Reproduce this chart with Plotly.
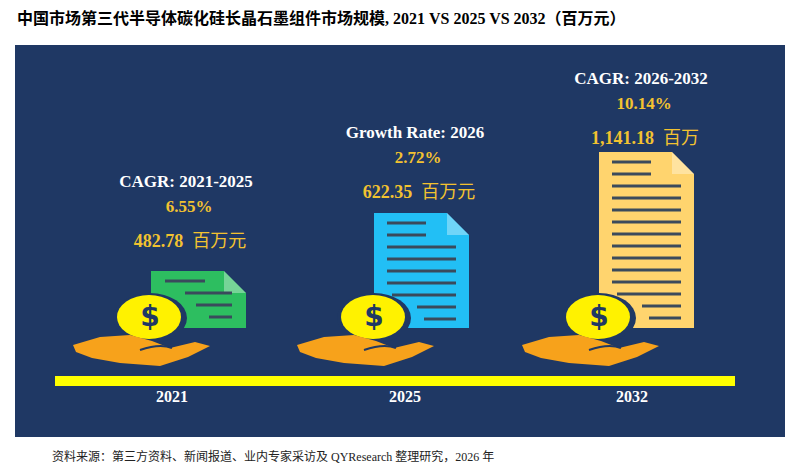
import plotly.graph_objects as go

years = ["2021", "2025", "2032"]
values = ["482.78", "622.35", "1,141.18"]
units = ["百万元", "百万元", "百万"]
rate_labels = ["CAGR: 2021-2025", "Growth Rate: 2026", "CAGR: 2026-2032"]
rates = ["6.55%", "2.72%", "10.14%"]
doc_colors = ["#2DBE60", "#22BFF5", "#FFD46E"]

# icon placement (pixel coords, y down)
ox = [0, 224, 449]
doc_left = [151, 374, 599]
doc_top = [271, 213, 152]
doc_w = 95
doc_bottom = 328
label_x = [186, 415, 641]
label_y = [183, 134, 80]

NAVY = "#1F3864"
LINE = "#3A4A5C"
GOLD = "#F2C230"
fig = go.Figure()
shapes = []

shapes.append(dict(type="rect", x0=15, x1=785, y0=45, y1=437, fillcolor=NAVY, line_width=0))

for i in range(3):
    l, t, r, b = doc_left[i], doc_top[i], doc_left[i] + doc_w, doc_bottom
    f = 22
    shapes.append(dict(type="path", path=f"M {l},{t} L {r-f},{t} L {r},{t+f} L {r},{b} L {l},{b} Z",
                       fillcolor=doc_colors[i], line_width=0))
    shapes.append(dict(type="path", path=f"M {r-f},{t} L {r-f},{t+f} L {r},{t+f} Z",
                       fillcolor="rgba(255,255,255,0.35)", line_width=0))
    ys = list(range(t + 10, b - 6, 12))
    n = len(ys)
    for k, y in enumerate(ys):
        if k < 2:
            x0, x1 = l + 13, l + 52
        elif k >= n - 2:
            x0, x1 = (l + 43 if k == n - 2 else l + 50), r - 13
        elif k == n - 3:
            x0, x1 = l + 18, r - 13
        else:
            x0, x1 = l + 13, r - 13
        if i == 0:
            x0 = [l + 14, l + 34, l + 45, l + 58][min(k, 3)]
            x1 = [l + 54, r - 14, r - 14, r - 14][min(k, 3)]
        shapes.append(dict(type="line", x0=x0, x1=x1, y0=y, y1=y, line=dict(color=LINE, width=3)))
    # coin
    cx, cy = 150 + ox[i], 318
    shapes.append(dict(type="circle", x0=cx - 37, x1=cx + 37, y0=cy - 25, y1=cy + 25,
                       fillcolor=NAVY, line_width=0))
    shapes.append(dict(type="circle", x0=cx - 33, x1=cx + 31, y0=cy - 23, y1=cy + 21,
                       fillcolor="#FFF200", line_width=0))
    # hand
    o = ox[i]
    pts = [(73, 345), (100, 337), (130, 335), (152, 341), (170, 348), (195, 342), (210, 346),
           (188, 357), (160, 366), (120, 363), (92, 358), (76, 352)]
    p = "M " + " L ".join(f"{x + o},{y}" for x, y in pts) + " Z"
    shapes.append(dict(type="path", path=p, fillcolor="#F7A21B", line_width=0))
    shapes.append(dict(type="path", path=f"M {140+o},{350} Q {160+o},{343} {172+o},{348}",
                       line=dict(color=NAVY, width=2)))

shapes.append(dict(type="rect", x0=55, x1=735, y0=376, y1=386, fillcolor="#FFFF00", line_width=0))

for s in shapes:
    s["layer"] = "below"
fig.update_layout(shapes=shapes)

serif = "Liberation Serif, Noto Sans CJK SC"
fig.add_trace(go.Scatter(x=[150 + o for o in ox], y=[319] * 3, mode="text", text=["<b>$</b>"] * 3,
                         textfont=dict(family="DejaVu Sans", size=28, color=NAVY), hoverinfo="skip"))
fig.add_trace(go.Scatter(x=[172, 405, 632], y=[398] * 3, mode="text", text=[f"<b>{s}</b>" for s in years],
                         textfont=dict(family=serif, size=16, color="white"), hoverinfo="skip"))
fig.add_trace(go.Scatter(x=label_x, y=label_y, mode="text", text=[f"<b>{s}</b>" for s in rate_labels],
                         textfont=dict(family=serif, size=17, color="white"), hoverinfo="skip"))
fig.add_trace(go.Scatter(x=[x + 3 for x in label_x], y=[y + 25 for y in label_y], mode="text",
                         text=[f"<b>{s}</b>" for s in rates],
                         textfont=dict(family=serif, size=17, color=GOLD), hoverinfo="skip"))
fig.add_trace(go.Scatter(x=[x + 4 for x in label_x], y=[y + 59 for y in label_y], mode="text",
                         text=[f"<b>{v}</b>  {u}" for v, u in zip(values, units)],
                         textfont=dict(family=serif, size=18, color=GOLD), hoverinfo="skip"))

fig.add_annotation(x=15, y=18, xanchor="left", text="<b>中国市场第三代半导体碳化硅长晶石墨组件市场规模, 2021 VS 2025 VS 2032（百万元）</b>",
                   showarrow=False, font=dict(family=serif, size=16, color="black"))
fig.add_annotation(x=50, y=456, xanchor="left", text="资料来源：第三方资料、新闻报道、业内专家采访及 QYResearch 整理研究，2026 年",
                   showarrow=False, font=dict(family=serif, size=12, color="#222"))

# page body has an 8px margin, so offset the pixel-style axes
fig.update_layout(width=803, height=469, margin=dict(l=0, r=0, t=0, b=0),
                  paper_bgcolor="white", plot_bgcolor="white", showlegend=False,
                  xaxis=dict(range=[8, 811], visible=False, fixedrange=True),
                  yaxis=dict(range=[477, 8], visible=False, fixedrange=True))
fig.write_html("out.html")
